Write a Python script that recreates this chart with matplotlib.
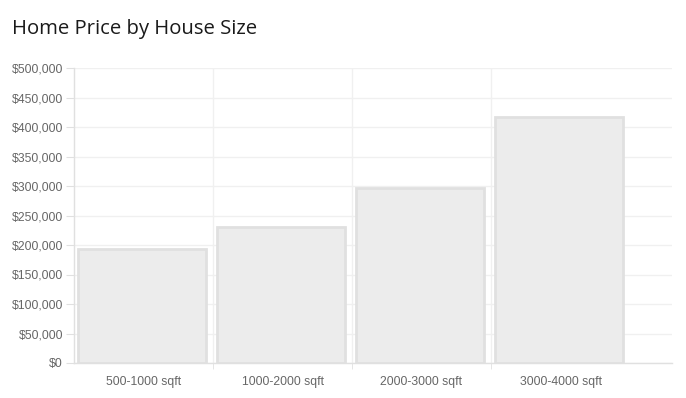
import matplotlib
matplotlib.use("Agg")
import matplotlib.pyplot as plt
from matplotlib.ticker import FuncFormatter
import numpy as np

categories = ["500-1000 sqft", "1000-2000 sqft", "2000-3000 sqft", "3000-4000 sqft"]
prices = [193000, 230000, 296000, 417000]
y_ticks = list(range(0, 500001, 50000))

W, H = 686, 398
fig = plt.figure(figsize=(W / 100, H / 100), dpi=100)
ax = fig.add_axes([74 / W, 1 - 363 / H, 598 / W, 295 / H])

x = np.arange(len(categories))
ax.bar(x - 0.01, prices, width=0.92, color="#ececec", edgecolor="#e0e0e0", linewidth=2, zorder=3)

ax.set_xlim(-0.5, -0.5 + 598 / 139)
ax.set_ylim(0, 500000)
ax.set_yticks(y_ticks)
ax.yaxis.set_major_formatter(FuncFormatter(lambda v, p: f"${int(v):,}"))

ax.set_xticks(x)
ax.set_xticklabels(categories)
ax.set_xticks(x[:-1] + 0.5, minor=True)

for s in ["top", "right"]:
    ax.spines[s].set_visible(False)
for s in ["left", "bottom"]:
    ax.spines[s].set_color("#e0e0e0")
    ax.spines[s].set_linewidth(1)

ax.grid(axis="y", which="major", color="#f0f0f0", linewidth=1, zorder=0)
ax.grid(axis="x", which="minor", color="#f0f0f0", linewidth=1, zorder=0)
ax.grid(axis="x", which="major", visible=False)

ax.tick_params(axis="y", which="major", length=6, color="#e0e0e0", pad=2,
               labelsize=8.8, labelcolor="#666666")
ax.tick_params(axis="x", which="major", length=0, pad=9,
               labelsize=8.8, labelcolor="#666666")
ax.tick_params(axis="x", which="minor", length=4, color="#e0e0e0")
for lbl in ax.get_xticklabels() + ax.get_yticklabels():
    lbl.set_fontfamily("Liberation Sans")

fig.text(12 / W, 1 - 34 / H, "Home Price by House Size", fontsize=14.6,
         family="Open Sans", color="#1a1a1a", va="baseline", ha="left")

fig.savefig("out.png", dpi=100)
